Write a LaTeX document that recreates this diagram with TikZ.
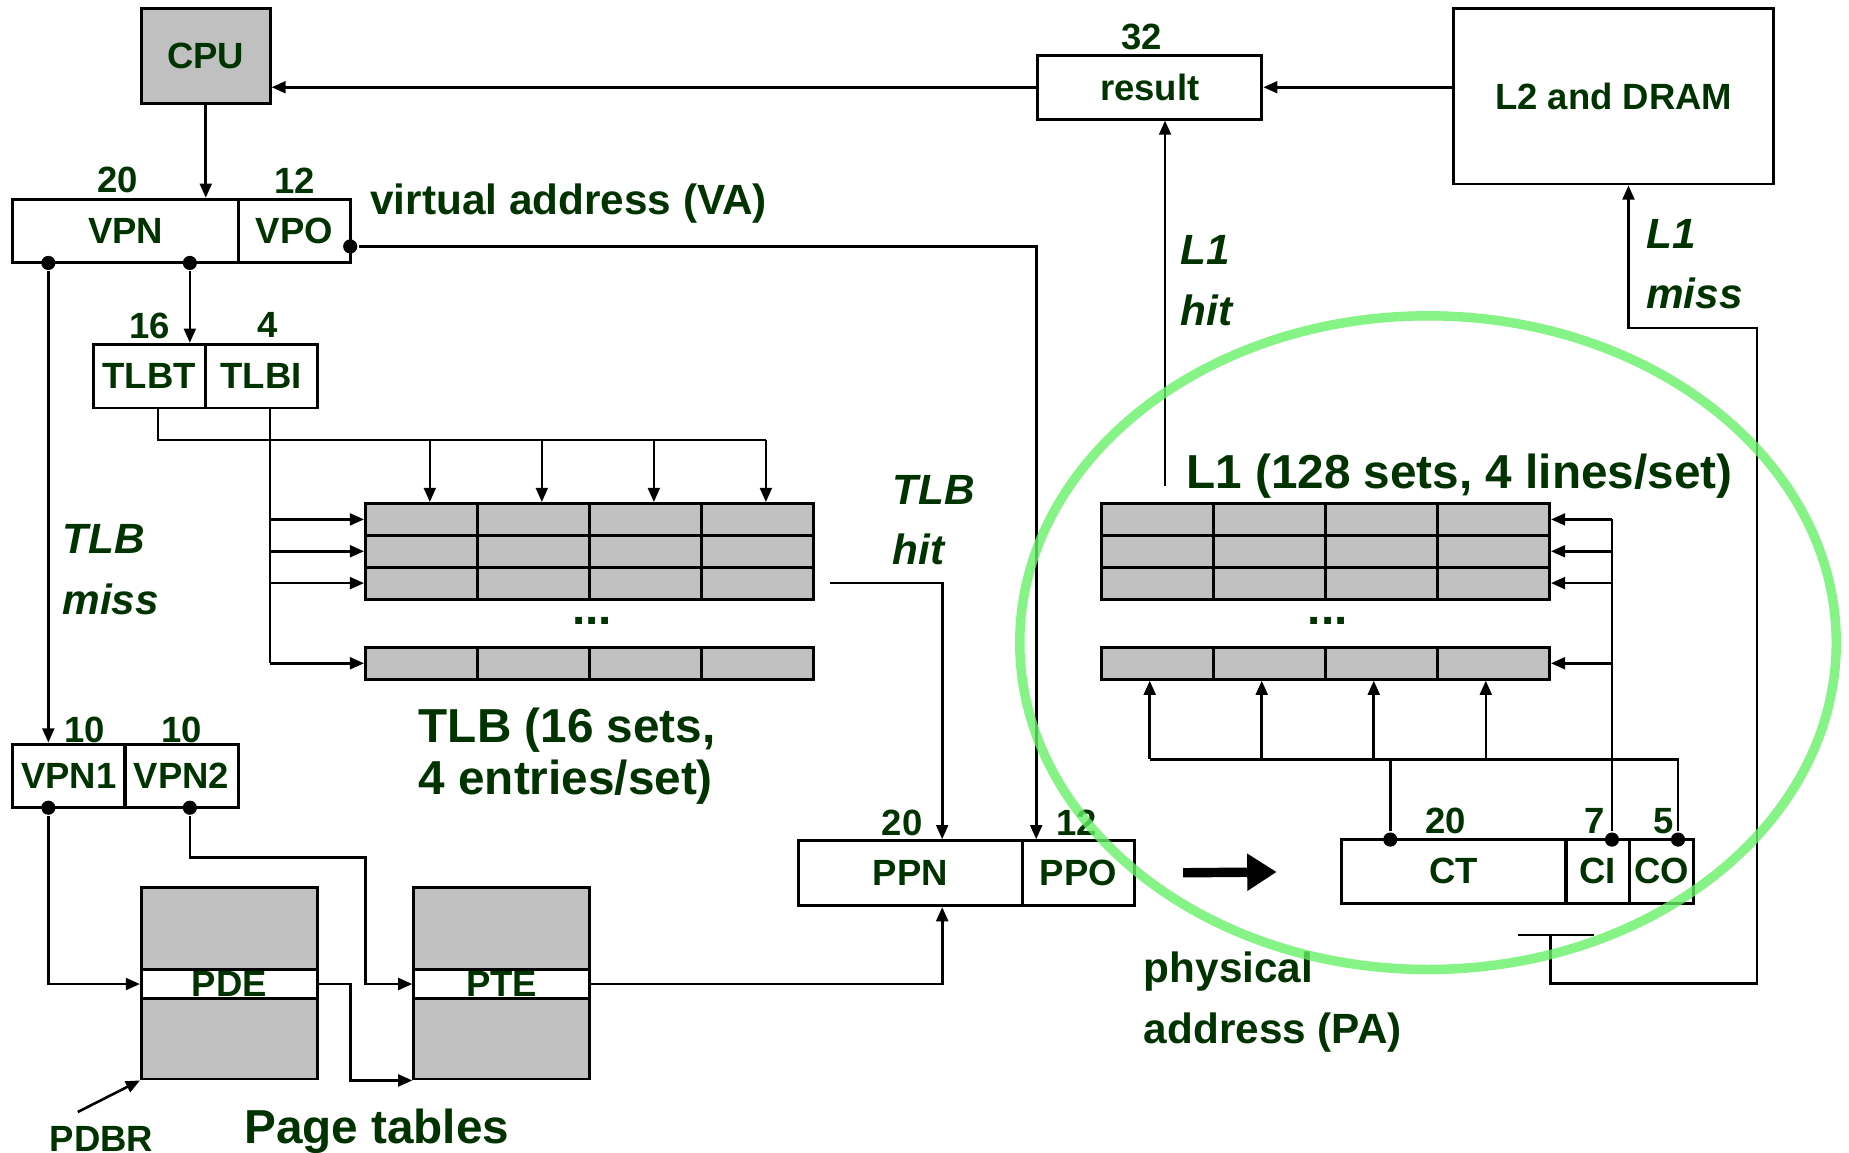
\documentclass[tikz,border=0pt]{standalone}
\usepackage{fontspec}
\setmainfont{Liberation Sans}
\usetikzlibrary{arrows.meta}

\definecolor{labelgreen}{HTML}{003300}
\definecolor{cellgray}{HTML}{C0C0C0}
\definecolor{ringgreen}{HTML}{66F066}

\begin{document}
\begin{tikzpicture}[x=0.01cm, y=-0.01cm, line width=0.022cm,
        >={Triangle[length=0.12cm,width=0.1cm]},
        box/.style={draw, line width=0.025cm, inner sep=0, text=labelgreen, font=\fontsize{8.8}{10}\selectfont\bfseries},
        cell/.style={draw, line width=0.025cm, fill=cellgray, minimum width=0.95cm, minimum height=0.27cm, inner sep=0},
        bits/.style={text=labelgreen, inner sep=0, font=\fontsize{8.8}{10}\selectfont\bfseries},
        midtext/.style={text=labelgreen, inner sep=0, anchor=west, align=left, font=\fontsize{10.2}{14.6}\selectfont\bfseries},
        hitmiss/.style={midtext, font=\fontsize{10.2}{14.6}\selectfont\bfseries\itshape},
        bigtext/.style={text=labelgreen, inner sep=0, anchor=west, align=left, font=\fontsize{11.5}{12.6}\selectfont\bfseries},
        joint/.style={circle, fill, inner sep=0, minimum size=0.12cm}]
        \useasboundingbox (0,0) rectangle (1568,977);

        % CPU, result, L2
        \node[box, fill=cellgray, minimum width=1.09cm, minimum height=0.81cm] (cpu) at (174.5,47.5) {CPU};
        \node[box, minimum width=1.9cm, minimum height=0.54cm] (res) at (975,74) {result};
        \node[box, minimum width=2.71cm, minimum height=1.49cm] (l2) at (1368.5,81.5) {L2 and DRAM};
        \node[bits] (res32) at (968,31) {32};

        % virtual address
        \node[box, minimum width=1.91cm, minimum height=0.54cm] (vpn) at (106.5,196) {VPN};
        \node[box, minimum width=0.95cm, minimum height=0.54cm] (vpo) at (249.5,196) {VPO};
        \node[bits] (vpn20) at (100,153) {20};
        \node[bits] (vpo12) at (250,153) {12};
        \node[midtext] (valabel) at (313,173) {virtual address (VA)};
        \node[joint] (vpnjoin1) at (41,223) {};
        \node[joint] (vpnjoin2) at (161,223) {};
        \node[joint] (vpojoin) at (297,209) {};

        % TLBT / TLBI
        \node[box, minimum width=0.95cm, minimum height=0.54cm] (tlbt) at (126.5,319) {TLBT};
        \node[box, minimum width=0.95cm, minimum height=0.54cm] (tlbi) at (221.5,319) {TLBI};
        \node[bits] (tlbt16) at (127,276) {16};
        \node[bits] (tlbi4) at (227,276) {4};

        % TLB and L1 sets
        \foreach \c in {1,...,4} {
                \foreach \r/\y in {1/440.5, 2/467.5, 3/494.5, 4/562.5} {
                        \node[cell] (t\r\c) at ({357.5+95*(\c-1)},\y) {};
                        \node[cell] (l\r\c) at ({981.5+95*(\c-1)},\y) {};
                }
        }
        \node[bigtext, anchor=center] (tlbdots) at (502,527) {...};
        \node[bigtext, anchor=center] (l1dots) at (1126,527) {...};
        \node[bigtext, anchor=north west] (tlblabel) at (354,599) {TLB (16 sets,\\4 entries/set)};
        \node[bigtext] (l1label) at (1005,404) {L1 (128 sets, 4 lines/set)};

        % VPN1 / VPN2
        \node[box, minimum width=0.95cm, minimum height=0.54cm] (vpn1) at (58.5,658) {VPN1};
        \node[box, minimum width=0.96cm, minimum height=0.54cm] (vpn2) at (154,658) {VPN2};
        \node[bits] (vpn1bits) at (72,619) {10};
        \node[bits] (vpn2bits) at (154,619) {10};
        \node[joint] (vpn1join) at (41,685) {};
        \node[joint] (vpn2join) at (161,685) {};

        % page tables
        \node[box, fill=cellgray, minimum width=1.49cm, minimum height=0.69cm] (pdtop) at (194.5,787.5) {};
        \node[box, fill=white, minimum width=1.49cm, minimum height=0.25cm] (pde) at (194.5,834.5) {PDE};
        \node[box, fill=cellgray, minimum width=1.49cm, minimum height=0.68cm] (pdbot) at (194.5,881) {};
        \node[box, fill=cellgray, minimum width=1.49cm, minimum height=0.69cm] (pttop) at (425.5,787.5) {};
        \node[box, fill=white, minimum width=1.49cm, minimum height=0.25cm] (pte) at (425.5,834.5) {PTE};
        \node[box, fill=cellgray, minimum width=1.49cm, minimum height=0.68cm] (ptbot) at (425.5,881) {};
        \node[bits] (pdbr) at (86,966) {PDBR};
        \node[bigtext] (ptlabel) at (206,959) {Page tables};

        % physical address
        \node[box, minimum width=1.9cm, minimum height=0.55cm] (ppn) at (772,740.5) {PPN};
        \node[box, minimum width=0.95cm, minimum height=0.55cm] (ppo) at (914.5,740.5) {PPO};
        \node[bits] (ppn20) at (765,698) {20};
        \node[bits] (ppo12) at (913,698) {12};
        \node[box, minimum width=1.9cm, minimum height=0.54cm] (ct) at (1233,739) {CT};
        \node[box, minimum width=0.54cm, minimum height=0.54cm] (ci) at (1355,739) {CI};
        \node[box, minimum width=0.54cm, minimum height=0.54cm] (co) at (1409,739) {CO};
        \node[bits] (ct20) at (1226,696) {20};
        \node[bits] (ci7) at (1352,696) {7};
        \node[bits] (co5) at (1411,696) {5};
        \node[joint] (ctjoin) at (1179,712) {};
        \node[joint] (cijoin) at (1367,712) {};
        \node[joint] (cojoin) at (1423,712) {};
        \node[midtext] (palabel) at (969,850) {physical\\address (PA)};

        % hit and miss labels
        \node[hitmiss] (tlbmiss) at (52,483) {TLB\\miss};
        \node[hitmiss] (tlbhit) at (756,441) {TLB\\hit};
        \node[hitmiss] (l1hit) at (1000,238) {L1\\hit};
        \node[hitmiss] (l1miss) at (1395,224) {L1\\miss};

        % coordinates for bends and free ends
        \coordinate (tagfrom) at ([xshift=0.075cm]tlbt.south);
        \coordinate (idxfrom) at ([xshift=0.075cm]tlbi.south);
        \coordinate (tagbus) at (0,373);
        \coordinate (offbus) at (0,644);
        \foreach \c in {1,...,4} {
                \coordinate (tin\c) at ([xshift=0.07cm]t1\c.north);
                \coordinate (lin\c) at ([xshift=-0.065cm]l4\c.south);
        }
        \coordinate (ppoin) at ([xshift=0.13cm]ppo.north west);
        \coordinate (ppnin) at ([xshift=0.27cm]ppn.north);
        \coordinate (ppnbot) at ([xshift=0.27cm]ppn.south);
        \coordinate (hitfrom) at (704,494.5);
        \coordinate (ptebend) at (310,727);
        \coordinate (pdebend) at (297,834.5);
        \coordinate (pdbrtail) at (66,943);
        \coordinate (hitl1) at (988,412);
        \coordinate (missa) at (1287,793);
        \coordinate (missb) at (1352,793);
        \coordinate (miss1) at (1315,793);
        \coordinate (miss2) at (1490,834);
        \coordinate (miss3) at (1490,278);
        \coordinate (l2in) at ([xshift=0.125cm]l2.south);

        % connectors
        \draw[->] (cpu.south) -- (cpu.south |- vpn.north);
        \draw[->] (res.west) -- (res.west -| cpu.east);
        \draw[->] (res.east -| l2.west) -- (res.east);
        \draw[->] (vpnjoin2) -- (vpnjoin2 |- tlbt.north);
        \draw[->] (vpnjoin1) -- (vpnjoin1 |- vpn1.north);
        \draw[->] (vpojoin) -| (ppoin);

        \draw (tagfrom) |- (tin4 |- tagbus);
        \foreach \c in {1,...,4}
                \draw[->] (tin\c |- tagbus) -- (tin\c);
        \draw (idxfrom) -- (idxfrom |- t41.west);
        \foreach \r in {1,...,4}
                \draw[->] (idxfrom |- t\r1.west) -- (t\r1.west);
        \draw[->] (hitfrom) -| (ppnin);

        \draw[->] (vpn1join) |- (pde.west);
        \draw[->] (vpn2join) |- (ptebend) |- (pte.west);
        \draw[->] (pde.east) -- (pdebend) |- (ptbot.south west);
        \draw[->] (pte.east) -| (ppnbot);
        \draw[->] (pdbrtail) -- (pdbot.south west);

        \draw[line width=0.08cm, -{Triangle[length=0.25cm,width=0.3cm]}, shorten <=0.4cm, shorten >=0.54cm] (ppo.east) -- (ct.west);

        \draw (ctjoin) -- (ctjoin |- offbus);
        \draw (cojoin) |- (lin1 |- offbus);
        \foreach \c in {1,...,4}
                \draw[->] (lin\c |- offbus) -- (lin\c);
        \draw (cijoin) -- (cijoin |- l14.east);
        \foreach \r in {1,...,4}
                \draw[->] (cijoin |- l\r4.east) -- (l\r4.east);

        \draw[->] (hitl1) -- (hitl1 |- res.south);
        \draw (missa) -- (missb);
        \draw[->] (miss1) |- (miss2) -- (miss3) -| (l2in);

        % highlight ring
        \draw[ringgreen, line width=0.08cm, opacity=0.8] (1211,545) ellipse [x radius=3.46cm, y radius=2.77cm];
\end{tikzpicture}
\end{document}
